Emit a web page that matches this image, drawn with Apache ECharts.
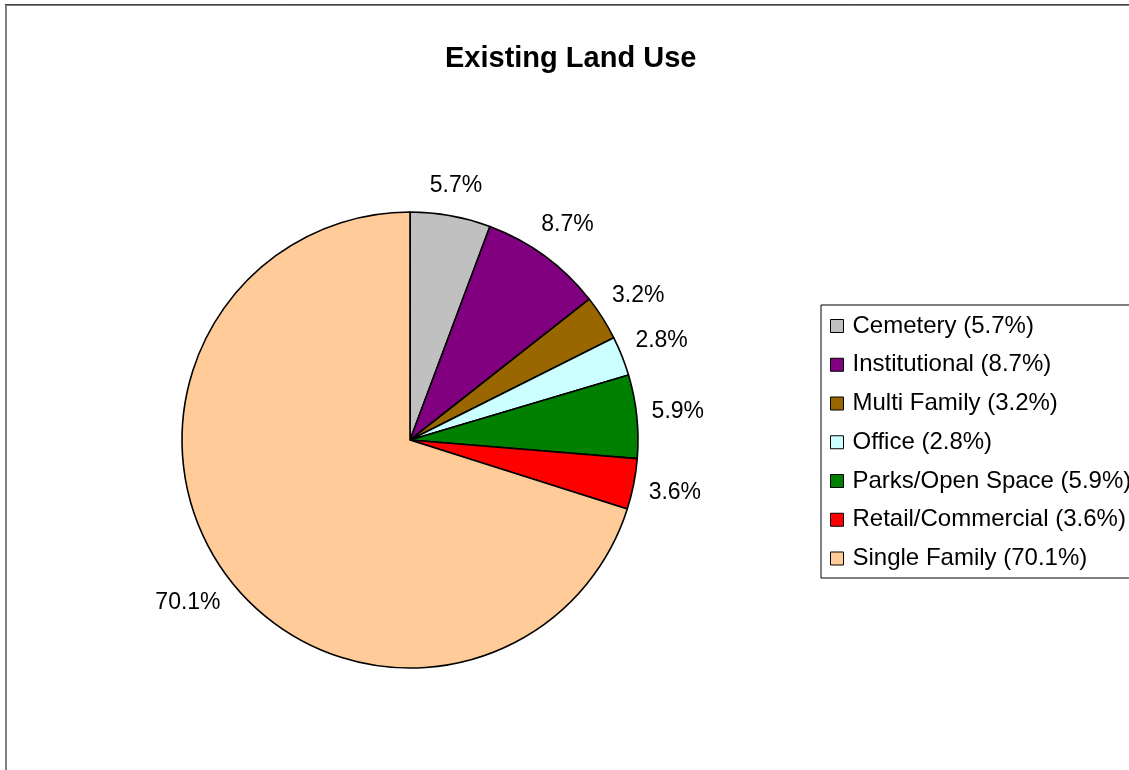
<!DOCTYPE html>
<html>
<head>
<meta charset="utf-8">
<script src="https://cdn.jsdelivr.net/npm/echarts@6/dist/echarts.min.js"></script>
<style>
html,body{margin:0;padding:0;background:#fff;}
#chart{width:1129px;height:770px;}
</style>
</head>
<body>
<div id="chart"></div>
<script>
const titleText = 'Existing Land Use';
const categories = ['Cemetery', 'Institutional', 'Multi Family', 'Office', 'Parks/Open Space', 'Retail/Commercial', 'Single Family'];
const percents = [5.7, 8.7, 3.2, 2.8, 5.9, 3.6, 70.1];
const colors = ['#C0C0C0', '#800080', '#996600', '#CCFFFF', '#008000', '#FF0000', '#FFCC99'];

const FONT = "'Liberation Sans', Arial, sans-serif";
const pieCenter = [410, 440];
const pieRadius = 228;
const labelGap = 14;

const total = percents.reduce((a, b) => a + b, 0);
const midAngles = [];
let cum = 0;
percents.forEach(v => {
  midAngles.push((cum + v / 2) / total * 2 * Math.PI);
  cum += v;
});

const pieData = categories.map((c, i) => ({
  name: c,
  value: percents[i],
  itemStyle: { color: colors[i] }
}));

const chart = echarts.init(document.getElementById('chart'), null, { renderer: 'canvas' });

chart.setOption({
  backgroundColor: '#ffffff',
  animation: false,
  title: {
    text: titleText,
    left: 445,
    top: 44,
    padding: 0,
    textStyle: { fontFamily: FONT, fontSize: 29, fontWeight: 'bold', color: '#000' }
  },
  graphic: [
    { type: 'rect', silent: true, shape: { x: 6, y: 5, width: 1300, height: 900 },
      style: { fill: 'none', stroke: '#808080', lineWidth: 2 } },
    { type: 'line', silent: true, shape: { x1: 5, y1: 4.5, x2: 1300, y2: 4.5 },
      style: { stroke: '#404040', lineWidth: 1 } }
  ],
  legend: {
    orient: 'vertical',
    left: 821,
    top: 305,
    padding: [8, 12, 6.5, 9],
    itemGap: 12.75,
    itemWidth: 13,
    itemHeight: 13,
    icon: 'rect',
    borderColor: '#000',
    borderWidth: 1,
    backgroundColor: '#fff',
    selectedMode: false,
    itemStyle: { borderColor: '#000', borderWidth: 1 },
    textStyle: { fontFamily: FONT, fontSize: 24, color: '#000', lineHeight: 26, padding: [0, 0, 0, 4] },
    formatter: function (name) {
      const i = categories.indexOf(name);
      return name + ' (' + percents[i].toFixed(1) + '%)';
    },
    data: categories
  },
  series: [{
    type: 'pie',
    center: pieCenter,
    radius: pieRadius,
    startAngle: 90,
    clockwise: true,
    avoidLabelOverlap: false,
    silent: true,
    itemStyle: { borderColor: '#000', borderWidth: 1.6 },
    label: {
      show: true,
      position: 'outside',
      fontFamily: FONT,
      fontSize: 23,
      color: '#000',
      formatter: function (p) { return p.value.toFixed(1) + '%'; }
    },
    labelLine: { show: false, length: 15, length2: 0 },
    labelLayout: function (params) {
      const a = midAngles[params.dataIndex];
      const dx = Math.sin(a), dy = -Math.cos(a);
      const w = params.labelRect.width, h = params.labelRect.height;
      const proj = Math.abs(dx) * w / 2 + Math.abs(dy) * h / 2;
      const d = pieRadius + labelGap + proj;
      return {
        x: pieCenter[0] + dx * d,
        y: pieCenter[1] + dy * d,
        align: 'center',
        verticalAlign: 'middle'
      };
    },
    data: pieData
  }]
});
</script>
</body>
</html>
